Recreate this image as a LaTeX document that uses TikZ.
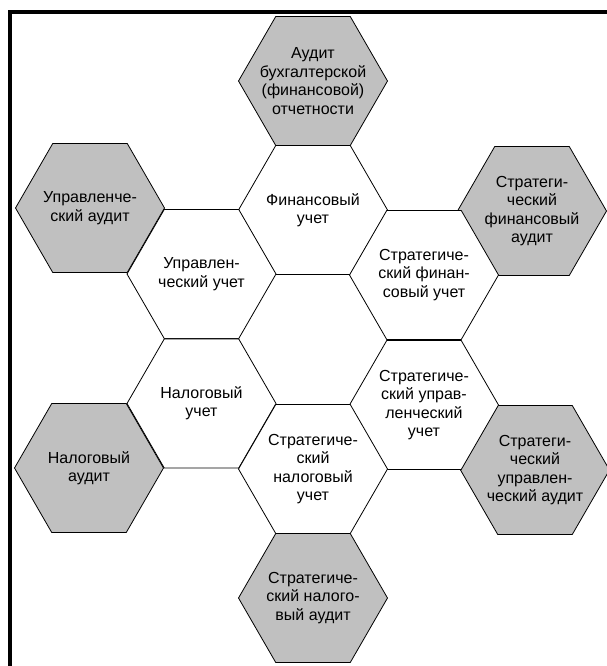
\documentclass[tikz,border=0pt]{standalone}
\usepackage{fontspec}
\setmainfont{Liberation Sans}
\usetikzlibrary{shapes.geometric}
\definecolor{hexgray}{RGB}{192,192,192}
\begin{document}
\begin{tikzpicture}[x=1pt,y=-1pt,
  hexbase/.style={regular polygon, regular polygon sides=6, minimum size=149pt,
    inner sep=0pt, outer sep=0pt, draw=black, line width=0.8pt},
  hexwhite/.style={hexbase, fill=white},
  hexfill/.style={hexbase, fill=hexgray},
  lbl/.style={align=center, inner sep=0pt, font=\fontsize{16pt}{18.4pt}\selectfont},
  frameline/.style={line width=4pt, line cap=rect}]
\useasboundingbox (0,0) rectangle (607,666);
\clip (0,0) rectangle (607,666);
% frame (only left and top edges visible)
\coordinate (fbl) at (10,670);
\coordinate (ftl) at (10,12);
\coordinate (ftr) at (612,12);
\draw[frameline] (fbl) -- (ftl) -- (ftr);
% grey hexagons (audits)
\node[hexfill] (audfin) at (313,81) {};
\node[hexfill] (mgaud) at (90,208) {};
\node[hexfill] (sfaud) at (532,211) {};
\node[hexfill] (taxaud) at (89,468) {};
\node[hexfill] (smaud) at (535,470) {};
\node[hexfill] (staud) at (313,598) {};
% white hexagons (accounting)
\node[hexwhite] (finacc) at (313,210) {};
\node[hexwhite] (mgacc) at (201.5,274) {};
\node[hexwhite] (sfacc) at (424,275) {};
\node[hexwhite] (taxacc) at (201.5,403.5) {};
\node[hexwhite] (smacc) at (424,405) {};
\node[hexwhite] (stacc) at (313,469) {};
% labels
\node[lbl] (audfin-t) at (audfin) {Аудит\\бухгалтерской\\(финансовой)\\отчетности};
\node[lbl] (mgaud-t) at (mgaud) {Управленче-\\ский аудит};
\node[lbl] (sfaud-t) at (sfaud) {Стратеги-\\ческий\\финансовый\\аудит};
\node[lbl] (taxaud-t) at (taxaud) {Налоговый\\аудит};
\node[lbl] (smaud-t) at (smaud) {Стратеги-\\ческий\\управлен-\\ческий аудит};
\node[lbl] (staud-t) at (staud) {Стратегиче-\\ский налого-\\вый аудит};
\node[lbl] (finacc-t) at (finacc) {Финансовый\\учет};
\node[lbl] (mgacc-t) at (mgacc) {Управлен-\\ческий учет};
\node[lbl] (sfacc-t) at (sfacc) {Стратегиче-\\ский финан-\\совый учет};
\node[lbl] (taxacc-t) at (taxacc) {Налоговый\\учет};
\node[lbl] (smacc-t) at (smacc) {Стратегиче-\\ский управ-\\ленческий\\учет};
\node[lbl] (stacc-t) at (stacc) {Стратегиче-\\ский\\налоговый\\учет};
\end{tikzpicture}
\end{document}
